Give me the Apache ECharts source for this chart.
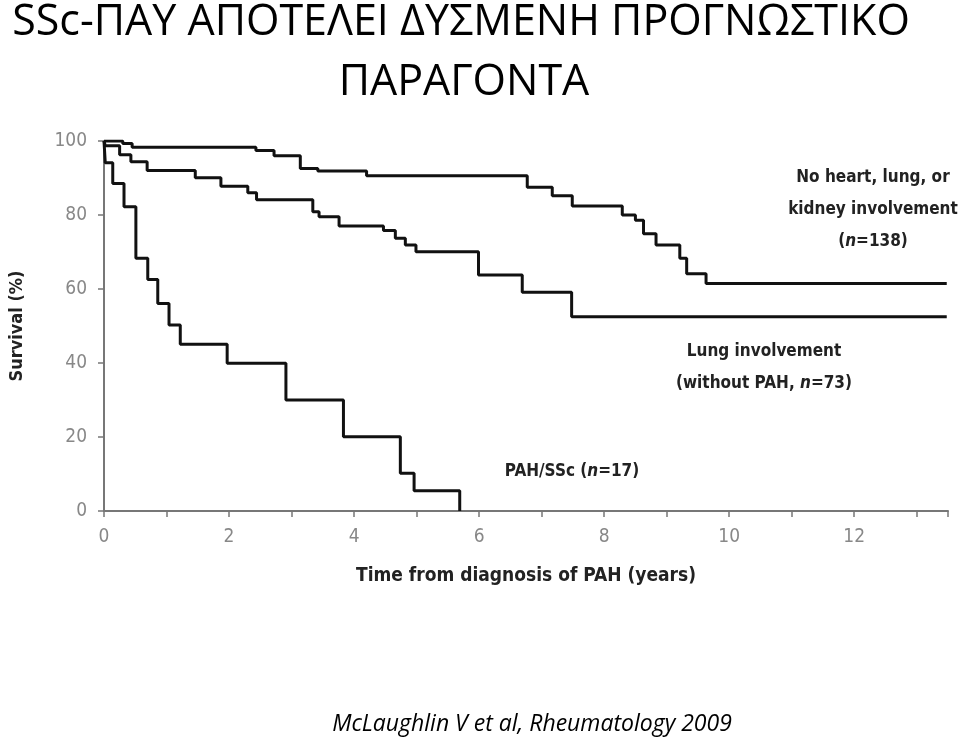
<!DOCTYPE html>
<html>
<head>
<meta charset="utf-8">
<script src="https://cdn.jsdelivr.net/npm/echarts@6/dist/echarts.min.js"></script>
<style>
  html, body { margin: 0; padding: 0; background: #fff; }
  #main { width: 960px; height: 738px; }
</style>
</head>
<body>
<div id="main"></div>
<script>
// survival curves (time in years, survival in %)
const noHeartT = [0, 0.3, 0.45, 2.43, 2.72, 3.14, 3.42, 4.20, 6.77, 7.17, 7.49, 8.29, 8.50, 8.63, 8.83, 9.21, 9.32, 9.63, 13.48];
const noHeartS = [100, 99.3, 98.3, 97.4, 96.0, 92.6, 91.9, 90.6, 87.5, 85.2, 82.4, 80.0, 78.6, 74.9, 71.9, 68.3, 64.1, 61.5, 61.5];

const lungT = [0, 0.02, 0.25, 0.43, 0.69, 1.46, 1.87, 2.30, 2.44, 3.34, 3.44, 3.76, 4.47, 4.66, 4.82, 4.99, 5.99, 6.69, 7.48, 13.48];
const lungS = [100, 98.7, 96.3, 94.4, 92.0, 90.1, 87.8, 86.0, 84.1, 80.9, 79.5, 77.0, 75.8, 73.7, 71.9, 70.1, 63.8, 59.1, 52.5, 52.5];

const pahT = [0, 0.02, 0.14, 0.32, 0.51, 0.70, 0.86, 1.04, 1.22, 1.97, 2.91, 3.83, 4.74, 4.96, 5.69];
const pahS = [100, 94.1, 88.5, 82.2, 68.3, 62.6, 56.1, 50.3, 45.1, 39.9, 30.0, 20.1, 10.2, 5.5, 0];

const xTicks = [0, 2, 4, 6, 8, 10, 12];
const yTicks = [0, 20, 40, 60, 80, 100];

const titleLines = ['SSc-ΠΑΥ ΑΠΟΤΕΛΕΙ ΔΥΣΜΕΝΗ ΠΡΟΓΝΩΣΤΙΚΟ', 'ΠΑΡΑΓΟΝΤΑ'];
const sourceText = 'McLaughlin V et al, Rheumatology 2009';

const narrow = "'Liberation Sans Narrow', 'DejaVu Sans Condensed', sans-serif";

function pairs(t, s) {
  return t.map(function (v, i) { return [v, s[i]]; });
}

let chart = echarts.init(document.getElementById('main'));

let option = {
  backgroundColor: '#fff',
  animation: false,
  grid: {
    left: 97,
    right: 12,
    top: 141,
    bottom: 227
  },
  xAxis: {
    type: 'value',
    min: 0,
    max: 13.5,
    interval: 1,
    name: 'Time from diagnosis of PAH (years)',
    nameLocation: 'middle',
    nameGap: 56,
    nameTextStyle: {
      fontFamily: narrow,
      fontWeight: 'bold',
      fontSize: 19,
      color: '#222'
    },
    axisLine: { lineStyle: { color: '#777', width: 2 } },
    axisTick: { length: 6, lineStyle: { color: '#777', width: 1.5 } },
    axisLabel: {
      margin: 17,
      fontFamily: narrow,
      fontSize: 19,
      color: '#888',
      formatter: function (v) { return xTicks.indexOf(v) >= 0 ? String(v) : ''; }
    },
    splitLine: { show: false }
  },
  yAxis: {
    type: 'value',
    min: 0,
    max: 100,
    interval: 20,
    name: 'Survival (%)',
    nameLocation: 'middle',
    nameGap: 78,
    nameTextStyle: {
      fontFamily: narrow,
      fontWeight: 'bold',
      fontSize: 18,
      color: '#222'
    },
    axisLine: { show: true, lineStyle: { color: '#777', width: 2 } },
    axisTick: { show: true, length: 6, lineStyle: { color: '#777', width: 1.5 } },
    axisLabel: {
      margin: 17,
      fontFamily: narrow,
      fontSize: 19,
      color: '#888',
      formatter: function (v) { return yTicks.indexOf(v) >= 0 ? String(v) : ''; }
    },
    splitLine: { show: false }
  },
  series: [
    {
      name: 'No heart, lung, or kidney involvement',
      type: 'line',
      step: 'end',
      symbol: 'none',
      lineStyle: { color: '#111', width: 3 },
      data: pairs(noHeartT, noHeartS)
    },
    {
      name: 'Lung involvement',
      type: 'line',
      step: 'end',
      symbol: 'none',
      lineStyle: { color: '#111', width: 3 },
      data: pairs(lungT, lungS)
    },
    {
      name: 'PAH/SSc',
      type: 'line',
      step: 'end',
      symbol: 'none',
      lineStyle: { color: '#111', width: 3 },
      data: pairs(pahT, pahS)
    }
  ]
};

// annotation labels (centre x, centre y of first line)
const notes = [
  { x: 873, y: 178, lines: ['No heart, lung, or', 'kidney involvement', '({i|n}=138)'] },
  { x: 764, y: 352, lines: ['Lung involvement', '(without PAH, {i|n}=73)'] },
  { x: 572, y: 472, lines: ['PAH/SSc ({i|n}=17)'] }
];

let graphics = notes.map(function (n) {
  return {
    type: 'text',
    x: n.x,
    y: n.y - 16,
    style: {
      text: n.lines.join('\n'),
      align: 'center',
      verticalAlign: 'top',
      font: 'bold 17px ' + narrow,
      lineHeight: 32,
      fill: '#222',
      rich: {
        i: { fontStyle: 'italic', fontWeight: 'bold', fontSize: 17, fontFamily: narrow, fill: '#222', lineHeight: 32 }
      }
    }
  };
});

// slide heading and citation
graphics.push(
  {
    type: 'text', x: 461, y: 23,
    style: { text: titleLines[0], align: 'center', verticalAlign: 'middle', font: '43px "Open Sans"', fill: '#000' }
  },
  {
    type: 'text', x: 464, y: 83,
    style: { text: titleLines[1], align: 'center', verticalAlign: 'middle', font: '43px "Open Sans"', fill: '#000' }
  },
  {
    type: 'text', x: 532, y: 724,
    style: { text: sourceText, align: 'center', verticalAlign: 'middle', font: 'italic 23px "Open Sans"', fill: '#000' }
  }
);

option.graphic = graphics;

chart.setOption(option);
</script>
</body>
</html>
